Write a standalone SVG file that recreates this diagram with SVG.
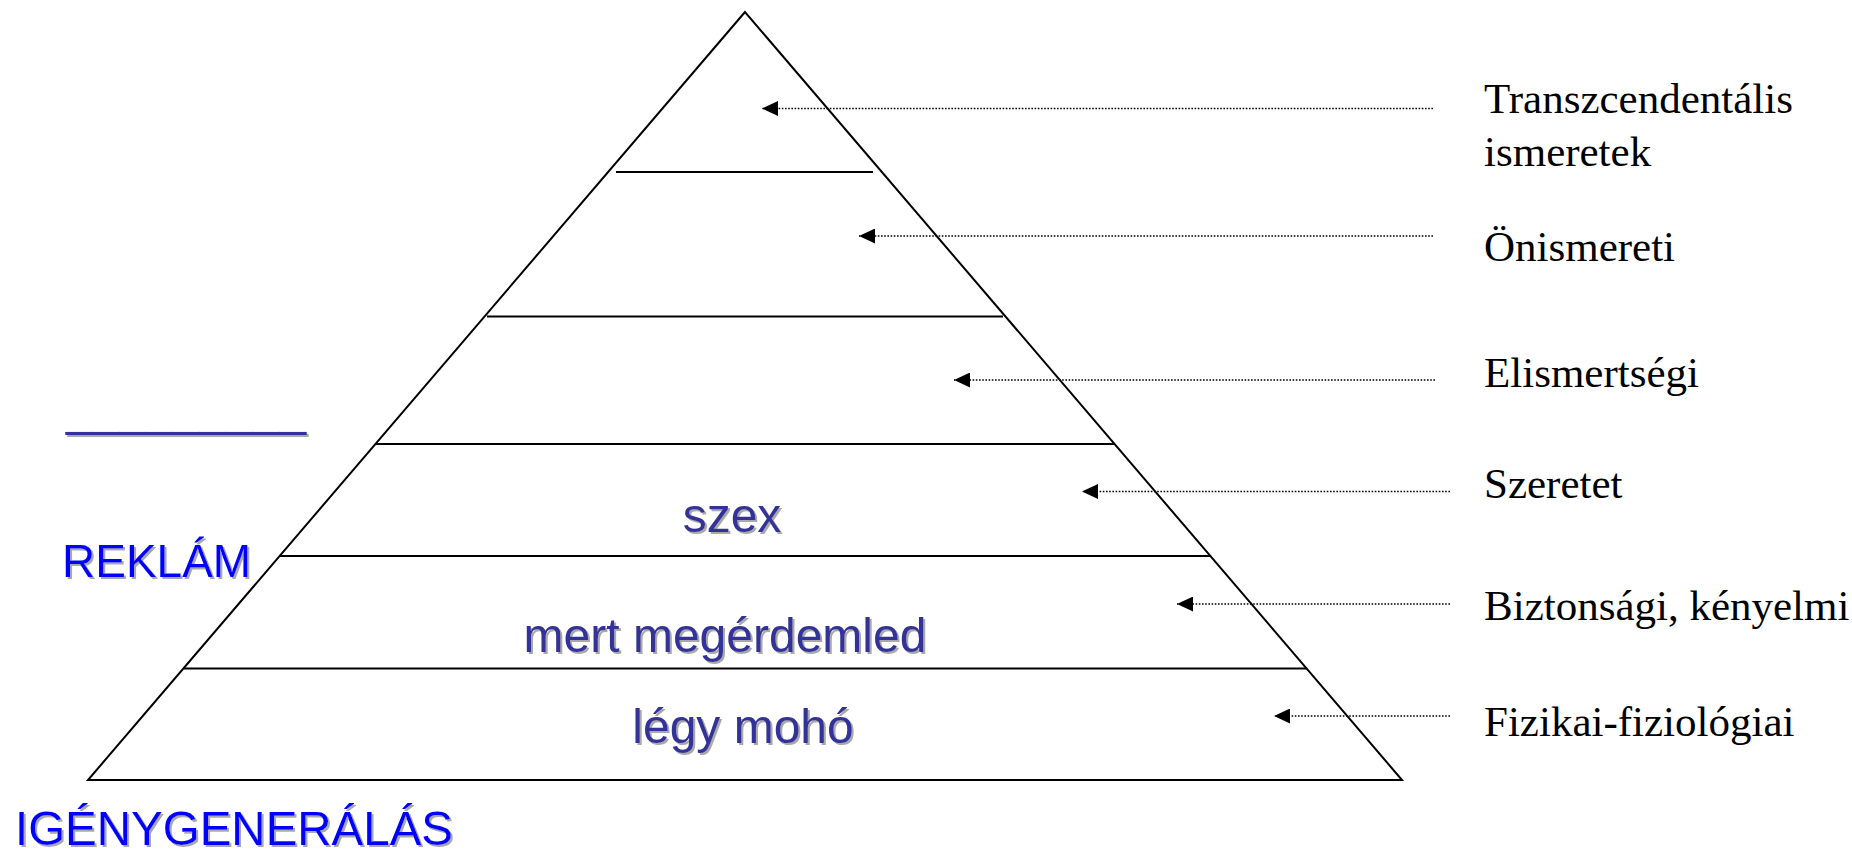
<svg xmlns="http://www.w3.org/2000/svg" width="1852" height="853" viewBox="0 0 1852 853">
<defs>
<style>
.edge{stroke:#000;stroke-width:2;fill:none}
.dot{stroke:#000;stroke-width:1.6;stroke-dasharray:1.6 1.6;fill:none}
.lab{font-family:"Liberation Serif","Times New Roman",serif;font-size:43px;fill:#000}
.big{font-family:"Liberation Sans",Arial,sans-serif;fill:#0000FF;filter:url(#sh)}
.in{font-family:"Liberation Sans",Arial,sans-serif;font-size:48px;fill:#333399;filter:url(#sh);text-anchor:middle}
</style>
<filter id="sh" x="-5%" y="-20%" width="110%" height="140%">
<feDropShadow dx="2" dy="2" stdDeviation="0.6" flood-color="#9a9a9a" flood-opacity="0.85"/>
</filter>
<marker id="ah" viewBox="0 0 16 15" refX="16" refY="7.5" markerWidth="16" markerHeight="15" markerUnits="userSpaceOnUse" orient="auto">
<path d="M16,7.5 L0,0 L0,15 Z" fill="#000"/>
</marker>
</defs>
<rect width="1852" height="853" fill="#fff"/>
<g id="pyramid">
<polygon class="edge" points="745,12 88,780 1402,780"/>
<line class="edge" x1="616" y1="172" x2="873" y2="172"/>
<line class="edge" x1="487" y1="316.5" x2="1003" y2="316.5"/>
<line class="edge" x1="376" y1="444" x2="1114" y2="444"/>
<line class="edge" x1="280" y1="556" x2="1210" y2="556"/>
<line class="edge" x1="184" y1="668.5" x2="1306" y2="668.5"/>
</g>
<g id="connectors">
<line class="dot" x1="1433" y1="108.5" x2="762" y2="108.5" marker-end="url(#ah)"/>
<line class="dot" x1="1433" y1="236" x2="859" y2="236" marker-end="url(#ah)"/>
<line class="dot" x1="1435" y1="380" x2="954" y2="380" marker-end="url(#ah)"/>
<line class="dot" x1="1450" y1="491.5" x2="1082" y2="491.5" marker-end="url(#ah)"/>
<line class="dot" x1="1450" y1="604" x2="1177" y2="604" marker-end="url(#ah)"/>
<line class="dot" x1="1450" y1="716" x2="1274" y2="716" marker-end="url(#ah)"/>
</g>
<g id="label-transzcendentalis"><text class="lab" x="1484" y="113">Transzcendentális</text><text class="lab" x="1484" y="166">ismeretek</text></g>
<g id="label-onismereti"><text class="lab" x="1484" y="261">Önismereti</text></g>
<g id="label-elismertsegi"><text class="lab" x="1484" y="387">Elismertségi</text></g>
<g id="label-szeretet"><text class="lab" x="1484" y="498">Szeretet</text></g>
<g id="label-biztonsagi"><text class="lab" x="1484" y="620">Biztonsági, kényelmi</text></g>
<g id="label-fizikai"><text class="lab" x="1484" y="736">Fizikai-fiziológiai</text></g>
<g id="level-szex"><text class="in" x="732" y="532">szex</text></g>
<g id="level-mert"><text class="in" x="725" y="652">mert megérdemled</text></g>
<g id="level-legy"><text class="in" x="743" y="743">légy mohó</text></g>
<g id="blank"><text class="in" style="text-anchor:start" x="66" y="425">_________</text></g>
<g id="reklam"><text class="big" style="font-size:46px" x="62" y="577">REKLÁM</text></g>
<g id="igenygeneralas"><text class="big" style="font-size:48px" x="15" y="845" textLength="438" lengthAdjust="spacingAndGlyphs">IGÉNYGENERÁLÁS</text></g>
</svg>
